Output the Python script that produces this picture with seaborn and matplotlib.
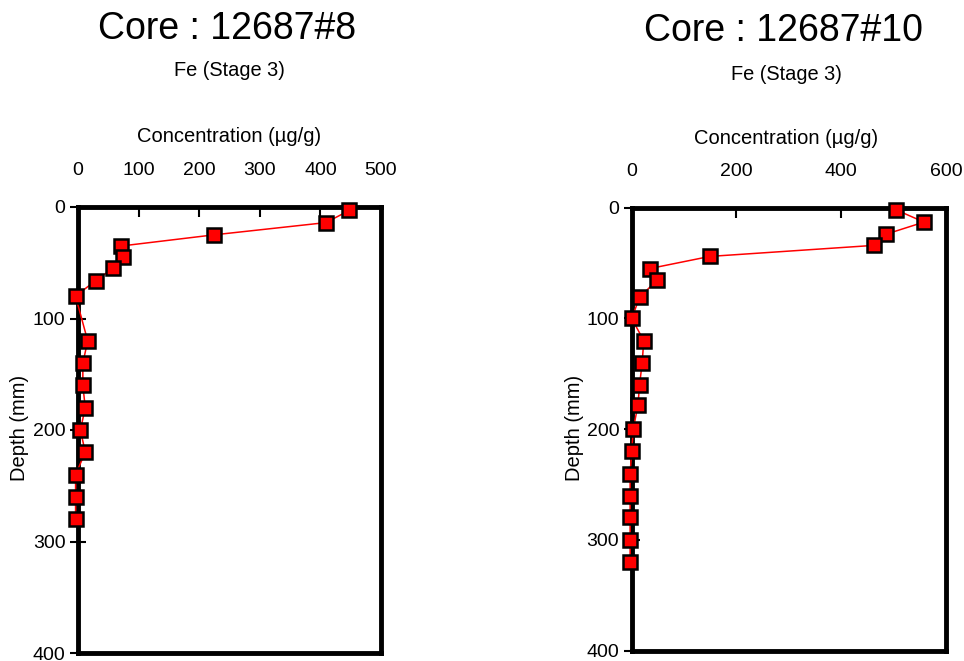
import matplotlib
matplotlib.use("Agg")
import matplotlib.pyplot as plt
import seaborn as sns
import pandas as pd

# ---- data ----
depth_8 = [3, 14, 25, 35, 45, 55, 66, 80, 120, 140, 160, 180, 200, 220, 240, 260, 280]
fe_8 = [448, 409, 224, 71, 75, 58, 29, -4, 16, 8, 8, 12, 4, 12, -4, -4, -4]

depth_10 = [2, 13, 24, 34, 44, 55, 65, 81, 100, 120, 140, 160, 178, 200, 220, 240, 260, 279, 300, 320]
fe_10 = [505, 558, 485, 463, 149, 34, 49, 15, 0, 23, 20, 15, 12, 3, 0, -3, -3, -3, -3, -3]

titles = ["Core : 12687#8", "Core : 12687#10"]
subtitle = "Fe (Stage 3)"
xlabel = "Concentration (µg/g)"
ylabel = "Depth (mm)"
xticks_8 = [0, 100, 200, 300, 400, 500]
xticks_10 = [0, 200, 400, 600]
yticks = [0, 100, 200, 300, 400]

sns.set_theme(style="white")
plt.rcParams["font.family"] = ["Liberation Sans", "DejaVu Sans"]
plt.rcParams["text.color"] = "black"

W, H = 964, 661
fig = plt.figure(figsize=(W / 100, H / 100), dpi=100)


def fx(px):
    return px / W


def fy(py):
    return 1 - py / H


ax1 = fig.add_axes([fx(78), fy(653), (381 - 78) / W, (653 - 207) / H])
ax2 = fig.add_axes([fx(631.7), fy(650.7), (946 - 631.7) / W, (650.7 - 207.7) / H])

panels = [
    (ax1, fe_8, depth_8, xticks_8, (0, 500)),
    (ax2, fe_10, depth_10, xticks_10, (0, 600)),
]

for ax, conc, dep, xt, xl in panels:
    df = pd.DataFrame({"conc": conc, "depth": dep})
    sns.lineplot(data=df, x="conc", y="depth", sort=False, estimator=None, ax=ax,
                 color="red", linewidth=1.1, marker="s", markersize=9.5,
                 markerfacecolor="red", markeredgecolor="black", markeredgewidth=1.8,
                 clip_on=False, zorder=5)
    ax.set_xlim(*xl)
    ax.set_ylim(400, 0)
    ax.set_xticks(xt)
    ax.set_yticks(yticks)
    ax.xaxis.tick_top()
    ax.tick_params(axis="x", direction="in", length=7, width=1.5, pad=20,
                   labelsize=14, colors="black", top=True, bottom=False)
    ax.tick_params(axis="y", direction="inout", length=12, width=1.5, pad=3,
                   labelsize=14, colors="black", left=True, right=False)
    ax.set_xlabel("")
    ax.set_ylabel("")
    for s in ax.spines.values():
        s.set_visible(True)
        s.set_color("black")
        s.set_linewidth(3.5)
    ax.set_facecolor("white")
    ax.grid(False)

# titles and labels
fig.text(fx(227), fy(29), titles[0], fontsize=27, ha="center", va="center", color="black")
fig.text(fx(784), fy(31), titles[1], fontsize=27, ha="center", va="center", color="black")
fig.text(fx(229), fy(70), subtitle, fontsize=14.4, ha="center", va="center", color="black")
fig.text(fx(786), fy(74), subtitle, fontsize=14.4, ha="center", va="center", color="black")
fig.text(fx(229), fy(137), xlabel, fontsize=14.5, ha="center", va="center", color="black")
fig.text(fx(786), fy(139), xlabel, fontsize=14.5, ha="center", va="center", color="black")
fig.text(fx(20), fy(428), ylabel, fontsize=14.5, ha="center", va="center", rotation=90, color="black")
fig.text(fx(575), fy(428), ylabel, fontsize=14.5, ha="center", va="center", rotation=90, color="black")

fig.savefig("out.png", dpi=100, facecolor="white")
